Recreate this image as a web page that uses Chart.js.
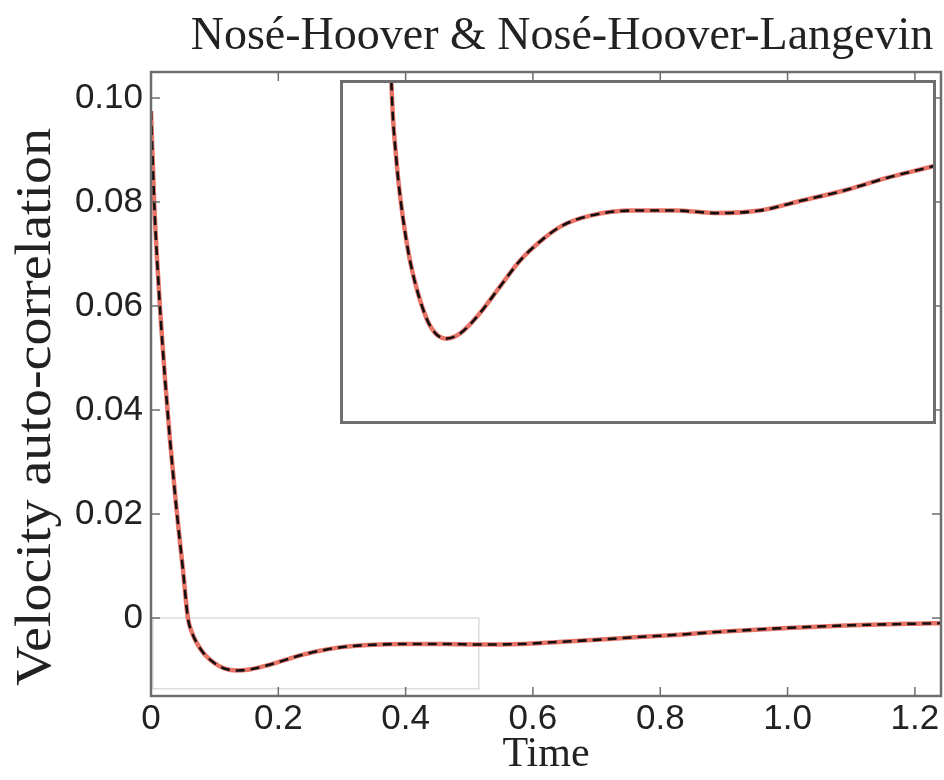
<!DOCTYPE html>
<html>
<head>
<meta charset="utf-8">
<script src="https://cdn.jsdelivr.net/npm/chart.js"></script>
<style>
  body { margin: 0; background: #fff; }
  .cadre { position: relative; width: 944px; height: 780px; }
  .encart { position: absolute; left: 340px; top: 80px; width: 596px; height: 344px; background: #fff; }
</style>
</head>
<body>
<div class="cadre">
  <canvas id="principal"></canvas>
  <div class="encart"><canvas id="zoom"></canvas></div>
</div>

<script>
const temps = [0, 0.005, 0.01, 0.015, 0.022, 0.03, 0.04, 0.05, 0.058, 0.065, 0.071, 0.078, 0.085, 0.1, 0.115, 0.135, 0.155, 0.18, 0.21, 0.24, 0.27, 0.3, 0.34, 0.4, 0.46, 0.52, 0.58, 0.64, 0.7, 0.76, 0.83, 0.9, 1.0, 1.1, 1.2, 1.245];
const noseHoover = [0.0975, 0.080, 0.068, 0.058, 0.046, 0.034, 0.021, 0.0095, 0.0, -0.0030, -0.0046, -0.0060, -0.0071, -0.0087, -0.0097, -0.0101, -0.0099, -0.0092, -0.0081, -0.0070, -0.0062, -0.0056, -0.0052, -0.0050, -0.0050, -0.0051, -0.0050, -0.0046, -0.0042, -0.0037, -0.0032, -0.0026, -0.0019, -0.0014, -0.0011, -0.0010];
const noseHooverLangevin = [0.0975, 0.080, 0.068, 0.058, 0.046, 0.034, 0.021, 0.0095, 0.0, -0.0030, -0.0046, -0.0060, -0.0071, -0.0087, -0.0097, -0.0101, -0.0099, -0.0092, -0.0081, -0.0070, -0.0062, -0.0056, -0.0052, -0.0050, -0.0050, -0.0051, -0.0050, -0.0046, -0.0042, -0.0037, -0.0032, -0.0026, -0.0019, -0.0014, -0.0011, -0.0010];

const xTicks = [0, 0.2, 0.4, 0.6, 0.8, 1.0, 1.2];
const xTickLabels = ['0', '0.2', '0.4', '0.6', '0.8', '1.0', '1.2'];
const yTicks = [0, 0.02, 0.04, 0.06, 0.08, 0.10];
const yTickLabels = ['0', '0.02', '0.04', '0.06', '0.08', '0.10'];

// zone agrandie dans l'encart
const zoneX = [0.003, 0.515];
const zoneY = [-0.0136, 0];
const encartX = [-0.015, 0.83];
const encartY = [-0.0135, 0.0002];

const gris = '#6e6e6e';

function makeDatasets() {
  return [
    {
      label: 'Nosé-Hoover-Langevin',
      data: temps.map((t, i) => ({ x: t, y: noseHooverLangevin[i] })),
      borderColor: '#111',
      borderWidth: 2.6,
      borderDash: [9, 6],
      pointRadius: 0,
      cubicInterpolationMode: 'monotone',
    },
    {
      label: 'Nosé-Hoover',
      data: temps.map((t, i) => ({ x: t, y: noseHoover[i] })),
      borderColor: 'rgb(232, 116, 104)',
      borderWidth: 4.5,
      pointRadius: 0,
      cubicInterpolationMode: 'monotone',
    },
  ];
}

// cadre + petites graduations vers l'intérieur
const cadrePlugin = {
  id: 'cadre',
  beforeDatasetsDraw(chart, args, opts) {
    const { ctx, scales } = chart;
    if (!opts.zone) return;
    ctx.save();
    const x1 = scales.x.getPixelForValue(zoneX[0]);
    const x2 = scales.x.getPixelForValue(zoneX[1]);
    const y1 = scales.y.getPixelForValue(zoneY[1]);
    const y2 = scales.y.getPixelForValue(zoneY[0]);
    ctx.strokeStyle = '#dcdcdc';
    ctx.lineWidth = 1.5;
    ctx.strokeRect(x1, y1, x2 - x1, y2 - y1);
    ctx.restore();
  },
  afterDraw(chart, args, opts) {
    const { ctx, chartArea: a, scales } = chart;
    ctx.save();
    ctx.strokeStyle = gris;
    ctx.lineWidth = opts.largeur || 2.5;
    const d = opts.interieur ? ctx.lineWidth / 2 : 0;
    ctx.strokeRect(a.left + d, a.top + d, a.right - a.left - 2 * d, a.bottom - a.top - 2 * d);
    if (opts.graduations) {
      const l = 9;
      ctx.lineWidth = 1.5;
      ctx.beginPath();
      xTicks.forEach(v => {
        const x = scales.x.getPixelForValue(v);
        ctx.moveTo(x, a.bottom); ctx.lineTo(x, a.bottom - l);
        ctx.moveTo(x, a.top); ctx.lineTo(x, a.top + l);
      });
      yTicks.forEach(v => {
        const y = scales.y.getPixelForValue(v);
        ctx.moveTo(a.left, y); ctx.lineTo(a.left + l, y);
        ctx.moveTo(a.right, y); ctx.lineTo(a.right - l, y);
      });
      ctx.stroke();
    }
    ctx.restore();
  }
};

// titre du graphe et titre de l'axe y (un peu étiré comme l'original)
const textesPlugin = {
  id: 'textes',
  afterDraw(chart) {
    const { ctx, chartArea: a } = chart;
    ctx.save();
    ctx.fillStyle = '#222';
    ctx.textAlign = 'center';
    ctx.textBaseline = 'alphabetic';
    ctx.font = '46px "Liberation Serif"';
    ctx.fillText('Nosé-Hoover & Nosé-Hoover-Langevin', 562, 49);

    ctx.translate(50, (a.top + a.bottom) / 2 + 23);
    ctx.rotate(-Math.PI / 2);
    ctx.scale(1.12, 1);
    ctx.font = '50px "Liberation Serif"';
    ctx.fillText('Velocity auto-correlation', 0, 0);
    ctx.restore();
  }
};

const policeTicks = { family: '"Liberation Sans", Arial, sans-serif', size: 35 };

new Chart(document.getElementById('principal'), {
  type: 'line',
  data: { datasets: makeDatasets() },
  options: {
    responsive: true,
    maintainAspectRatio: false,
    animation: false,
    layout: { padding: { top: 72, right: 3, left: 0, bottom: 0 } },
    plugins: {
      legend: { display: false },
      tooltip: { enabled: false },
      cadre: { graduations: true, zone: true, largeur: 2.5 },
    },
    scales: {
      x: {
        type: 'linear',
        min: 0,
        max: 1.241,
        afterBuildTicks: s => { s.ticks = xTicks.map(v => ({ value: v })); },
        afterFit: s => { s.height = 84; },
        ticks: {
          padding: 2,
          color: '#222',
          font: policeTicks,
          maxRotation: 0,
          callback: (v, i) => xTickLabels[i],
        },
        grid: { display: false, drawTicks: false },
        border: { display: false },
        title: {
          display: true,
          text: 'Time',
          color: '#222',
          font: { family: '"Liberation Serif"', size: 42 },
          padding: { top: 0, bottom: 0 },
        },
      },
      y: {
        type: 'linear',
        min: -0.015,
        max: 0.105,
        afterBuildTicks: s => { s.ticks = yTicks.map(v => ({ value: v })); },
        afterFit: s => { s.width = 151; },
        ticks: {
          padding: 8,
          color: '#222',
          font: policeTicks,
          callback: (v, i) => yTickLabels[i],
        },
        grid: { display: false, drawTicks: false },
        border: { display: false },
      },
    },
  },
  plugins: [cadrePlugin, textesPlugin],
});

new Chart(document.getElementById('zoom'), {
  type: 'line',
  data: { datasets: makeDatasets() },
  options: {
    responsive: true,
    maintainAspectRatio: false,
    animation: false,
    layout: { padding: 0 },
    plugins: {
      legend: { display: false },
      tooltip: { enabled: false },
      cadre: { interieur: true, largeur: 3 },
    },
    scales: {
      x: { type: 'linear', min: encartX[0], max: encartX[1], display: false },
      y: { type: 'linear', min: encartY[0], max: encartY[1], display: false },
    },
  },
  plugins: [cadrePlugin],
});
</script>
</body>
</html>
